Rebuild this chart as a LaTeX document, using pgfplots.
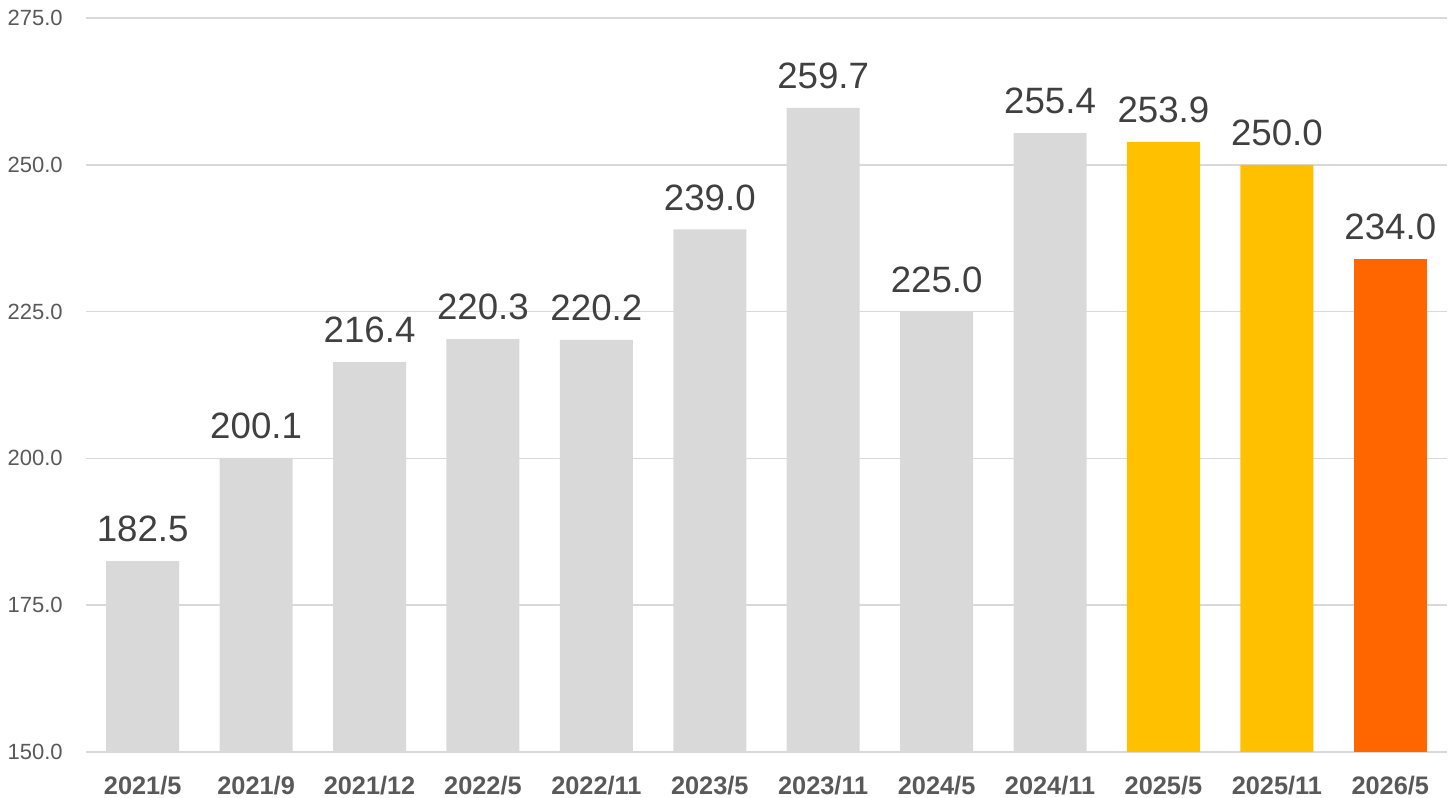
\documentclass[border=0pt]{standalone}
\usepackage{pgfplots}
\pgfplotsset{compat=1.18}
\usepackage{fontspec}
\setmainfont{Liberation Sans}
\definecolor{gridc}{HTML}{D9D9D9}
\definecolor{barg}{HTML}{D9D9D9}
\definecolor{bary}{HTML}{FFC000}
\definecolor{baro}{HTML}{FF6600}
\definecolor{tickc}{HTML}{595959}
\definecolor{labc}{HTML}{404040}
\begin{document}
\begin{tikzpicture}[x=1pt,y=1pt]
\begin{axis}[
  at={(0,0)}, anchor=south west,
  scale only axis, width=1020.75pt, height=550.5pt,
  xmin=-0.5, xmax=11.5, ymin=150, ymax=275,
  ytick={150,175,200,225,250,275},
  xtick={0,...,11},
  xticklabels={2021/5,2021/9,2021/12,2022/5,2022/11,2023/5,2023/11,2024/5,2024/11,2025/5,2025/11,2026/5},
  axis line style={draw=none},
  major tick length=0pt,
  ymajorgrids, major grid style={color=gridc, line width=1.1pt},
  /pgf/number format/assume math mode=true,
  yticklabel={\pgfmathprintnumber[fixed,zerofill,precision=1]{\tick}},
  yticklabel style={anchor=east, inner sep=0pt, xshift=-17.25pt, font=\fontsize{16.5pt}{18pt}\selectfont, text=tickc},
  xticklabel style={anchor=base, inner sep=0pt, yshift=-32.25pt, font=\fontsize{19pt}{22pt}\selectfont\bfseries, text=tickc},
  ybar, bar width=54.75pt, bar shift=0pt,
  nodes near coords={\pgfmathprintnumber[fixed,zerofill,precision=1]{\pgfplotspointmeta}},
  nodes near coords style={anchor=base, inner sep=0pt, yshift=14.5pt, font=\fontsize{27.5pt}{30pt}\selectfont, text=labc},
  clip=false,
]
\addplot[fill=barg, draw=none] coordinates {(0,182.5) (1,200.1) (2,216.4) (3,220.3) (4,220.2) (5,239.0) (6,259.7) (7,225.0) (8,255.4)};
\addplot[fill=bary, draw=none] coordinates {(9,253.9) (10,250.0)};
\addplot[fill=baro, draw=none] coordinates {(11,234.0)};
\end{axis}
\pgfresetboundingbox
\path (-64.5pt,-34.5pt) rectangle (1026.75pt,564pt);
\end{tikzpicture}
\end{document}
